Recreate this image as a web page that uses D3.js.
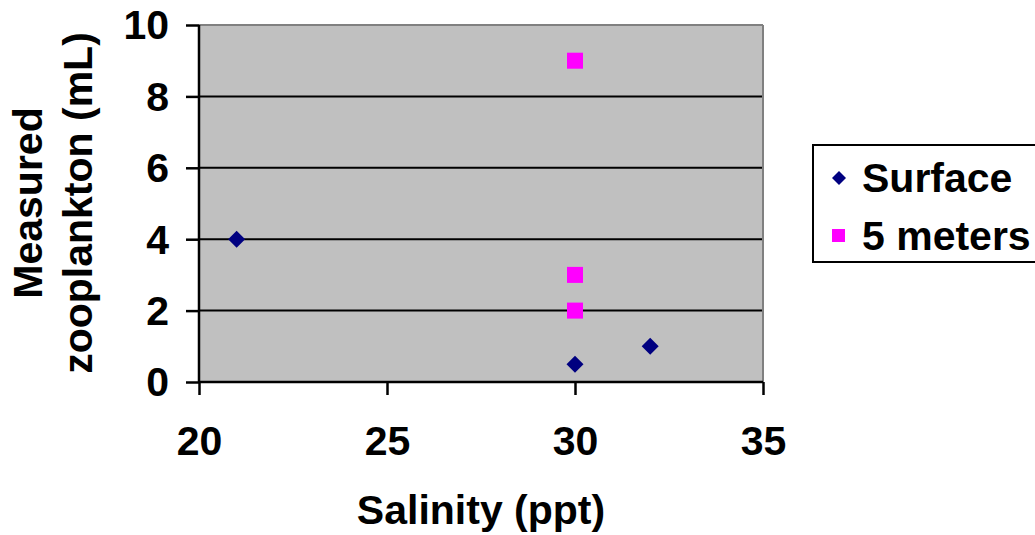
<!DOCTYPE html>
<html>
<head>
<meta charset="utf-8">
<script src="https://cdn.jsdelivr.net/npm/d3@7"></script>
<style>
  html, body { margin: 0; padding: 0; background: #fff; }
  svg { display: block; }
  text { font-family: "Liberation Sans", Arial, sans-serif; font-weight: bold; fill: #000; }
</style>
</head>
<body>
<svg id="chart" width="1035" height="535"></svg>
<script>
// Data
const surfaceX = [21, 30, 32];
const surfaceY = [4, 0.5, 1];
const metersX = [30, 30, 30];
const metersY = [9, 3, 2];
const xTicks = [20, 25, 30, 35];
const yTicks = [0, 2, 4, 6, 8, 10];
const seriesNames = ["Surface", "5 meters"];
const seriesColors = ["#000080", "#FF00FF"];
const xTitle = "Salinity (ppt)";
const yTitleLines = ["Measured", "zooplankton (mL)"];

const svg = d3.select("#chart");
const L = 199, R = 763, T = 25, B = 382;
const fs = 41;

const x = d3.scaleLinear().domain([20, 35]).range([L, R]);
const y = d3.scaleLinear().domain([0, 10]).range([B, T]);

// plot background
svg.append("rect").attr("x", L).attr("y", T).attr("width", R - L).attr("height", B - T)
  .attr("fill", "#C0C0C0");

// gridlines
svg.append("g").selectAll("line").data(yTicks.filter(d => d > 0 && d < 10)).join("line")
  .attr("x1", L).attr("x2", R).attr("y1", d => y(d)).attr("y2", d => y(d))
  .attr("stroke", "#000").attr("stroke-width", 2);

// top and right border (gray)
svg.append("line").attr("x1", L).attr("x2", R).attr("y1", T).attr("y2", T)
  .attr("stroke", "#808080").attr("stroke-width", 2);
svg.append("line").attr("x1", R).attr("x2", R).attr("y1", T).attr("y2", B)
  .attr("stroke", "#808080").attr("stroke-width", 2);

// axes
const yAxis = d3.axisLeft(y).tickValues(yTicks).tickSize(13).tickPadding(17).tickFormat(d3.format("d"));
const xAxis = d3.axisBottom(x).tickValues(xTicks).tickSize(13).tickPadding(32).tickFormat(d3.format("d"));

const gy = svg.append("g").attr("transform", `translate(${L},0)`).call(yAxis);
const gx = svg.append("g").attr("transform", `translate(0,${B})`).call(xAxis);

[gy, gx].forEach(g => {
  g.select(".domain").attr("stroke", "#000").attr("stroke-width", 2.5);
  g.selectAll(".tick line").attr("stroke", "#000").attr("stroke-width", 2.5);
  g.selectAll(".tick text").attr("font-size", fs).attr("font-family", "Liberation Sans, Arial, sans-serif")
    .attr("font-weight", "bold").attr("fill", "#000");
});
gy.select(".domain").attr("d", `M0,${T}V${B}`);
gx.select(".domain").attr("d", `M${L},0H${R}`);
gy.selectAll(".tick text").attr("dy", "0.34em");
gx.selectAll(".tick text").attr("dy", "0.69em");

// markers
function diamondPath(s) {
  return `M0,${-s}L${s},0L0,${s}L${-s},0Z`;
}
const surface = surfaceX.map((v, i) => ({ x: v, y: surfaceY[i] }));
const meters = metersX.map((v, i) => ({ x: v, y: metersY[i] }));

svg.append("g").selectAll("path").data(surface).join("path")
  .attr("transform", d => `translate(${x(d.x)},${y(d.y)})`)
  .attr("d", diamondPath(8.5)).attr("fill", seriesColors[0]);

svg.append("g").selectAll("rect").data(meters).join("rect")
  .attr("x", d => x(d.x) - 8).attr("y", d => y(d.y) - 8)
  .attr("width", 16).attr("height", 16).attr("fill", seriesColors[1]);

// axis titles
svg.append("text").attr("x", (L + R) / 2).attr("y", 524).attr("text-anchor", "middle")
  .attr("font-size", fs).text(xTitle);

const yt = svg.append("text").attr("transform", "translate(42,203) rotate(-90)")
  .attr("text-anchor", "middle").attr("font-size", fs);
yt.append("tspan").attr("x", 0).attr("y", 0).text(yTitleLines[0]);
yt.append("tspan").attr("x", 0).attr("y", 50).text(yTitleLines[1]);

// legend
const lg = svg.append("g");
lg.append("rect").attr("x", 813).attr("y", 145).attr("width", 260).attr("height", 117)
  .attr("fill", "#fff").attr("stroke", "#000").attr("stroke-width", 2);
const legY = [178, 236];
lg.append("path").attr("transform", `translate(839,${legY[0]})`).attr("d", diamondPath(7))
  .attr("fill", seriesColors[0]);
lg.append("rect").attr("x", 832).attr("y", legY[1] - 7).attr("width", 13).attr("height", 13)
  .attr("fill", seriesColors[1]);
seriesNames.forEach((n, i) => {
  lg.append("text").attr("x", 862).attr("y", legY[i]).attr("dy", "0.35em")
    .attr("font-size", fs).text(n);
});
</script>
</body>
</html>
